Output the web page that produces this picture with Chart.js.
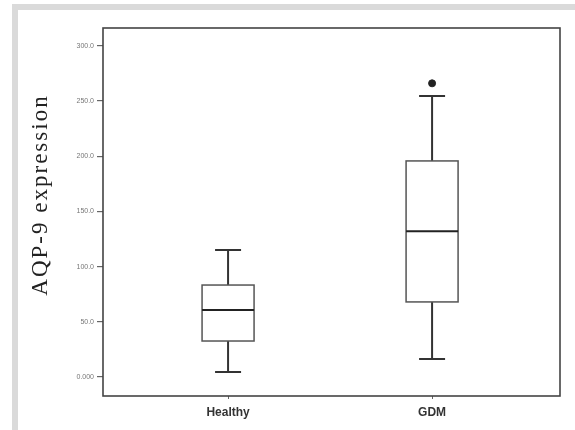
<!DOCTYPE html>
<html>
<head>
<meta charset="utf-8">
<script src="https://cdn.jsdelivr.net/npm/chart.js@4"></script>
<style>
  html, body { margin: 0; padding: 0; background: #fff; }
  #wrap { position: relative; width: 575px; height: 430px; overflow: hidden; }
  #frame { position: absolute; left: 12px; top: 4px; width: 580px; height: 440px;
           border-left: 6px solid #dadada; border-top: 6px solid #dadada; box-sizing: border-box; }
  canvas { position: absolute; left: 0; top: 0; }
</style>
</head>
<body>
<div id="wrap">
  <div id="frame"></div>
  <canvas id="c" width="575" height="430"></canvas>
</div>
<script>
// ---- data ----
const categories = ['Healthy', 'GDM'];
const categoryPos = [1, 2];
const whiskerLow = [4.5, 16.3];
const q1 = [32.6, 68.0];
const median = [60.7, 132.0];
const q3 = [83.3, 195.7];
const whiskerHigh = [115.0, 254.5];
const outliers = [[], [266.0]];
const yTickValues = [0, 50, 100, 150, 200, 250, 300];
const yTickLabels = ['0.000', '50.0', '100.0', '150.0', '200.0', '250.0', '300.0'];
const yTitle = 'AQP-9 expression';

const outlierData = [];
outliers.forEach((arr, i) => arr.forEach(v => outlierData.push({ x: categoryPos[i], y: v })));

const boxPlugin = {
  id: 'boxExtras',
  beforeDatasetsDraw(chart) {
    const ctx = chart.ctx;
    const xs = chart.scales.x, ys = chart.scales.y;
    ctx.save();
    categoryPos.forEach((pos, i) => {
      const cx = xs.getPixelForValue(pos);
      const half = 26;
      const capHalf = 13;
      ctx.strokeStyle = '#333';
      ctx.lineWidth = 2;
      // whiskers
      ctx.beginPath();
      ctx.moveTo(cx, ys.getPixelForValue(q3[i]));
      ctx.lineTo(cx, ys.getPixelForValue(whiskerHigh[i]));
      ctx.moveTo(cx, ys.getPixelForValue(q1[i]));
      ctx.lineTo(cx, ys.getPixelForValue(whiskerLow[i]));
      ctx.stroke();
      // caps
      ctx.beginPath();
      const yh = ys.getPixelForValue(whiskerHigh[i]);
      const yl = ys.getPixelForValue(whiskerLow[i]);
      ctx.moveTo(cx - capHalf, yh); ctx.lineTo(cx + capHalf, yh);
      ctx.moveTo(cx - capHalf, yl); ctx.lineTo(cx + capHalf, yl);
      ctx.stroke();
      // box
      const yt = ys.getPixelForValue(q3[i]);
      const yb = ys.getPixelForValue(q1[i]);
      ctx.fillStyle = '#fff';
      ctx.fillRect(cx - half, yt, 2 * half, yb - yt);
      ctx.strokeStyle = '#555';
      ctx.lineWidth = 1.5;
      ctx.strokeRect(cx - half, yt, 2 * half, yb - yt);
      // median
      ctx.lineWidth = 2.2;
      ctx.strokeStyle = '#222';
      const ym = ys.getPixelForValue(median[i]);
      ctx.beginPath();
      ctx.moveTo(cx - half, ym); ctx.lineTo(cx + half, ym);
      ctx.stroke();
    });
    ctx.restore();
  },
  afterDatasetsDraw(chart) {
    const ctx = chart.ctx;
    ctx.save();
    // plot frame
    const a = chart.chartArea;
    ctx.lineWidth = 1.6;
    ctx.strokeStyle = '#444';
    ctx.strokeRect(a.left, a.top, a.right - a.left, a.bottom - a.top);
    // y title
    ctx.fillStyle = '#222';
    ctx.font = '23px "Liberation Serif", serif';
    try { ctx.letterSpacing = '2px'; } catch (e) {}
    ctx.textAlign = 'center';
    ctx.textBaseline = 'middle';
    ctx.translate(41, 195);
    ctx.rotate(-Math.PI / 2);
    ctx.fillText(yTitle, 0, 0);
    ctx.restore();
  }
};

new Chart(document.getElementById('c'), {
  type: 'scatter',
  data: {
    datasets: [
      {
        data: outlierData,
        pointRadius: 3.5,
        pointBackgroundColor: '#222',
        pointBorderColor: '#222'
      }
    ]
  },
  options: {
    responsive: false,
    animation: false,
    layout: { padding: { top: 28, right: 15, left: 0, bottom: 0 } },
    plugins: { legend: { display: false }, tooltip: { enabled: false } },
    scales: {
      x: {
        type: 'linear',
        offset: false,
        min: 0.387,
        max: 2.627,
        afterBuildTicks: axis => { axis.ticks = categoryPos.map(v => ({ value: v })); },
        afterFit: axis => { axis.height = 34; },
        grid: { offset: false, drawOnChartArea: false, drawTicks: true, tickLength: 3, color: '#666' },
        border: { display: false },
        ticks: {
          padding: 6,
          color: '#333',
          font: { family: 'Liberation Sans, Arial, sans-serif', size: 12, weight: 'bold' },
          callback: (v) => { const i = categoryPos.indexOf(v); return i >= 0 ? categories[i] : ''; }
        }
      },
      y: {
        min: -17.2,
        max: 316.1,
        afterBuildTicks: axis => { axis.ticks = yTickValues.map(v => ({ value: v })); },
        afterFit: axis => { axis.width = 103; },
        grid: { drawOnChartArea: false, drawTicks: true, tickLength: 6, color: '#666', lineWidth: 1.2 },
        border: { display: false },
        ticks: {
          padding: 3,
          color: '#777',
          font: { family: 'Liberation Sans, Arial, sans-serif', size: 7 },
          callback: (v) => { const i = yTickValues.indexOf(v); return i >= 0 ? yTickLabels[i] : ''; }
        }
      }
    }
  },
  plugins: [boxPlugin]
});
</script>
</body>
</html>
